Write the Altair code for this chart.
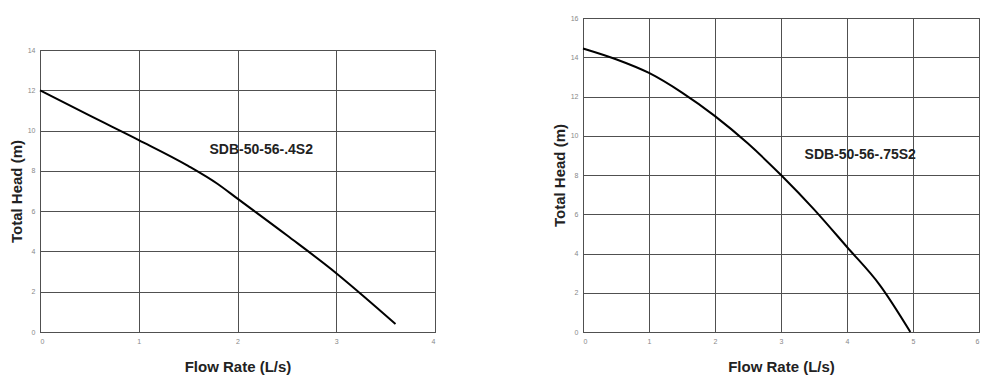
import altair as alt
import pandas as pd

# Left pump: SDB-50-56-.4S2
left_flow = [0.0, 0.5, 1.0, 1.5, 1.8, 2.0, 2.5, 3.0, 3.3, 3.6]
left_head = [12.0, 10.75, 9.53, 8.25, 7.35, 6.62, 4.8, 2.92, 1.68, 0.4]
left_label = "SDB-50-56-.4S2"

# Right pump: SDB-50-56-.75S2
right_flow = [0.0, 0.5, 1.0, 1.5, 2.0, 2.5, 3.0, 3.5, 4.0, 4.5, 4.96]
right_head = [14.45, 13.9, 13.2, 12.2, 11.0, 9.6, 8.0, 6.25, 4.33, 2.38, 0.0]
right_label = "SDB-50-56-.75S2"

left_xticks = [0, 1, 2, 3, 4]
left_yticks = [0, 2, 4, 6, 8, 10, 12, 14]
right_xticks = [0, 1, 2, 3, 4, 5, 6]
right_yticks = [0, 2, 4, 6, 8, 10, 12, 14, 16]

FONT = "Liberation Sans"


def panel(flow, head, label, lx, ly, xmax, ymax, xticks, yticks, w, h):
    df = pd.DataFrame({"flow": flow, "head": head})
    lab = pd.DataFrame({"flow": [lx], "head": [ly], "t": [label]})
    x = alt.X("flow:Q", title="Flow Rate (L/s)",
              scale=alt.Scale(domain=[0, xmax], nice=False),
              axis=alt.Axis(values=xticks, tickCount=len(xticks), format="d",
                            labelOverlap=False))
    y = alt.Y("head:Q", title="Total Head (m)",
              scale=alt.Scale(domain=[0, ymax], nice=False),
              axis=alt.Axis(values=yticks, tickCount=len(yticks), format="d",
                            labelOverlap=False))
    line = alt.Chart(df).mark_line(color="black", strokeWidth=2,
                                   interpolate="monotone").encode(x=x, y=y)
    txt = alt.Chart(lab).mark_text(font=FONT, fontSize=14, fontWeight="bold",
                                   color="#222222").encode(x=x, y=y, text="t:N")
    return alt.layer(line, txt).properties(
        width=w, height=h,
        view=alt.ViewBackground(stroke="#505050", strokeWidth=1))


left = panel(left_flow, left_head, left_label, 2.24, 9.04, 4, 14,
             left_xticks, left_yticks, 395, 282)
right = panel(right_flow, right_head, right_label, 4.2, 9.03, 6, 16,
              right_xticks, right_yticks, 396, 314)

spacer = alt.Chart(pd.DataFrame({"a": [0]})).mark_point(opacity=0).encode(
    x=alt.value(0), y=alt.value(0)
).properties(width=395, height=1,
             view=alt.ViewBackground(stroke="transparent"))

left_col = alt.vconcat(spacer, left, spacing=23)

chart = alt.hconcat(left_col, right, spacing=115).configure_axis(
    labelFont=FONT, labelFontSize=7, labelColor="#888888", labelPadding=5,
    labelOverlap=False,
    titleFont=FONT, titleFontSize=15, titleFontWeight="bold", titleColor="#222222",
    gridColor="#505050", gridOpacity=1, gridWidth=1,
    domainColor="#505050", ticks=False,
).configure_axisX(titlePadding=15).configure_axisY(titlePadding=3).properties(
    padding={"left": 0, "top": 5, "right": 0, "bottom": 0})

chart.save("out.html", embed_options={"renderer": "svg", "actions": False})
